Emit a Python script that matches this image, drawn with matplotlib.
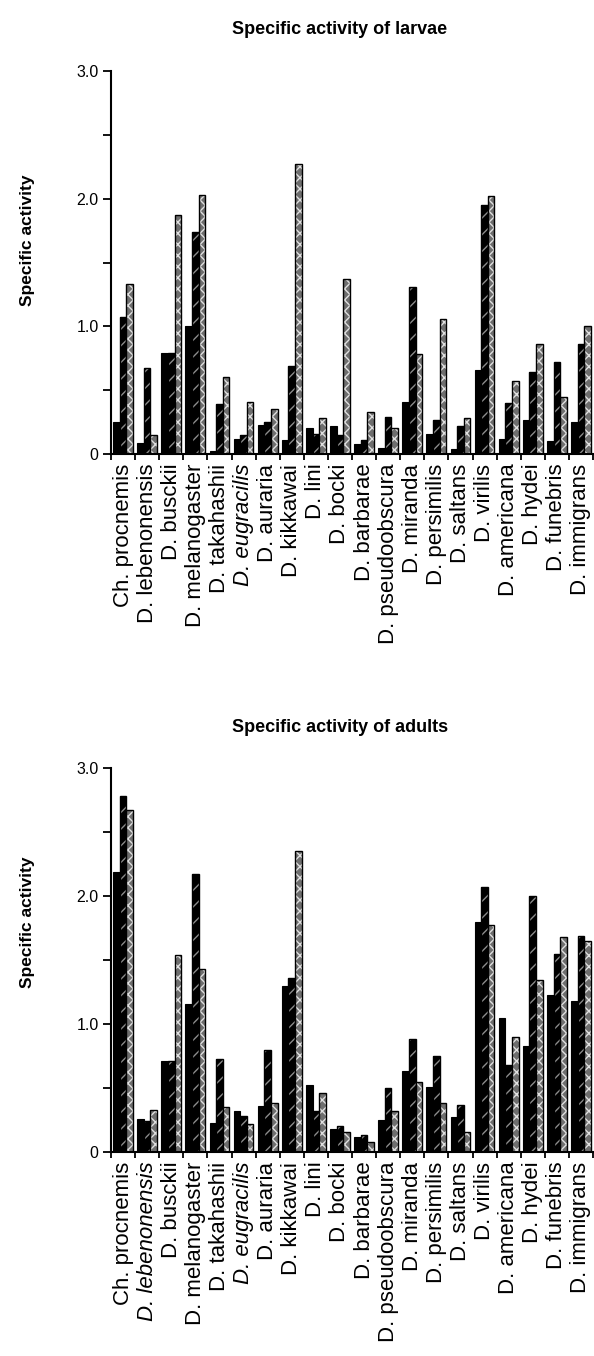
import numpy as np
import matplotlib
matplotlib.use("Agg")
import matplotlib.pyplot as plt

plt.rcParams['font.family'] = ['Liberation Sans', 'DejaVu Sans']
plt.rcParams['hatch.linewidth'] = 1.0

species = ["Ch. procnemis", "D. lebenonensis", "D. busckii", "D. melanogaster",
           "D. takahashii", "D. eugracilis", "D. auraria", "D. kikkawai", "D. lini",
           "D. bocki", "D. barbarae", "D. pseudoobscura", "D. miranda", "D. persimilis",
           "D. saltans", "D. virilis", "D. americana", "D. hydei", "D. funebris",
           "D. immigrans"]

# larvae: three bars per species (black, dark hatched, light hatched)
larvae_black = [0.25, 0.09, 0.79, 1.00, 0.02, 0.12, 0.23, 0.11, 0.20, 0.22,
                0.08, 0.05, 0.41, 0.16, 0.04, 0.66, 0.12, 0.27, 0.10, 0.25]
larvae_dark = [1.07, 0.67, 0.79, 1.74, 0.39, 0.15, 0.25, 0.69, 0.16, 0.15,
               0.11, 0.29, 1.31, 0.27, 0.22, 1.95, 0.40, 0.64, 0.72, 0.86]
larvae_light = [1.33, 0.15, 1.87, 2.03, 0.60, 0.41, 0.35, 2.27, 0.28, 1.37,
                0.33, 0.20, 0.78, 1.06, 0.28, 2.02, 0.57, 0.86, 0.45, 1.00]

adults_black = [2.19, 0.26, 0.71, 1.16, 0.23, 0.32, 0.36, 1.30, 0.52, 0.18,
                0.12, 0.25, 0.63, 0.51, 0.27, 1.80, 1.05, 0.83, 1.23, 1.18]
adults_dark = [2.78, 0.24, 0.71, 2.17, 0.73, 0.28, 0.80, 1.36, 0.32, 0.20,
               0.13, 0.50, 0.88, 0.75, 0.37, 2.07, 0.68, 2.00, 1.55, 1.69]
adults_light = [2.67, 0.33, 1.54, 1.43, 0.35, 0.22, 0.38, 2.35, 0.46, 0.16,
                0.08, 0.32, 0.55, 0.38, 0.16, 1.77, 0.90, 1.34, 1.68, 1.65]

W, H = 594, 1356
fig = plt.figure(figsize=(W / 100, H / 100), dpi=100)

def panel(top_px, bot_px, title, black, dark, light, italic, ylab_px):
    ax = fig.add_axes([111 / W, 1 - bot_px / H, (593 - 111) / W, (bot_px - top_px) / H])
    x = np.arange(len(species))
    w = 0.275
    ax.bar(x - w, black, w, color='black', edgecolor='black', linewidth=0.8)
    ax.bar(x, dark, w, color='black', edgecolor='#8c8c8c', hatch='//', linewidth=0)
    ax.bar(x, dark, w, fill=False, edgecolor='black', linewidth=1.0)
    ax.bar(x + w, light, w, color='#6e6e6e', edgecolor='#e0e0e0', hatch='xxx', linewidth=0)
    ax.bar(x + w, light, w, fill=False, edgecolor='black', linewidth=1.0)

    ax.set_xlim(-0.5, len(species) - 0.5)
    ax.set_ylim(0, 3.0)
    for s in ['top', 'right']:
        ax.spines[s].set_visible(False)
    ax.spines['left'].set_linewidth(1.5)
    ax.spines['bottom'].set_linewidth(1.5)

    ax.set_yticks([0, 1, 2, 3])
    ax.set_yticklabels(['0', '1.0', '2.0', '3.0'], fontsize=11.5)
    ax.set_yticks([0.5, 1.5, 2.5], minor=True)
    ax.tick_params(axis='y', which='both', direction='out', length=6, width=1.3, pad=3)

    ax.set_xticks(x)
    ax.set_xticklabels(species, rotation=90, fontsize=16, ha='center', va='top')
    for lab in ax.get_xticklabels():
        if lab.get_text() in italic:
            lab.set_style('italic')
    ax.set_xticks(np.arange(len(species) + 1) - 0.5, minor=True)
    ax.tick_params(axis='x', which='major', length=0, pad=7)
    ax.tick_params(axis='x', which='minor', direction='out', length=4, width=1.3)

    fig.text(340 / W, 1 - (top_px - 41) / H, title, ha='center', va='center',
             fontsize=13, fontweight='bold')
    fig.text(28 / W, 1 - ylab_px / H, 'Specific activity', rotation=90,
             ha='center', va='center', fontsize=12.5, fontweight='bold')
    return ax

panel(71, 454, 'Specific activity of larvae', larvae_black, larvae_dark, larvae_light,
      ['D. eugracilis'], 240)
panel(768, 1152, 'Specific activity of adults', adults_black, adults_dark, adults_light,
      ['D. lebenonensis', 'D. eugracilis'], 922)

fig.savefig('out.png', dpi=100)
